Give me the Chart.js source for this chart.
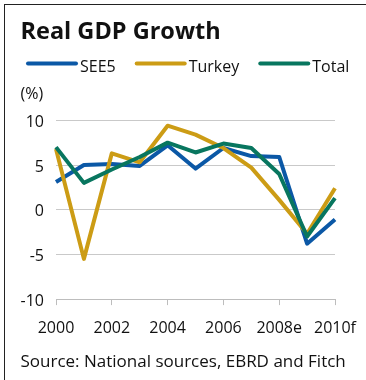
<!DOCTYPE html>
<html>
<head>
<meta charset="utf-8">
<script src="https://cdn.jsdelivr.net/npm/chart.js@4/dist/chart.umd.min.js"></script>
<style>
  html, body { margin: 0; padding: 0; background: #fff; }
  #wrap { position: relative; width: 366px; height: 380px; overflow: hidden; }
  #moldura { position: absolute; left: 4px; top: 4px; width: 420px; height: 420px;
             border-left: 1.5px solid #222; border-top: 1.5px solid #222; }
  #grafico { position: absolute; left: 0; top: 0; }
</style>
</head>
<body>
<div id="wrap">
  <div id="moldura"></div>
  <canvas id="grafico" width="366" height="380"></canvas>
</div>
<script>
// Anos e séries (%)
const anos = ['2000', '2001', '2002', '2003', '2004', '2005', '2006', '2007', '2008e', '2009f', '2010f'];
const see5 = [3.1, 5.0, 5.1, 4.9, 7.2, 4.6, 6.9, 6.0, 5.9, -3.8, -1.1];
const turquia = [6.8, -5.5, 6.3, 5.3, 9.4, 8.4, 6.9, 4.7, 1.1, -2.7, 2.4];
const total = [7.0, 3.0, 4.5, 5.9, 7.5, 6.4, 7.4, 6.9, 4.0, -3.0, 1.3];
const marcasY = [-10, -5, 0, 5, 10];

const fonte = '"Open Sans", "DejaVu Sans", sans-serif';
const corTexto = '#111';

// Legenda em linha e rótulo (%) desenhados no canvas
const legendaLinhas = {
    id: 'legendaLinhas',
    afterDraw(chart) {
        const ctx = chart.ctx;
        const yLinha = 63.5;
        let x = 26;
        ctx.save();
        ctx.font = '16px ' + fonte;
        ctx.textBaseline = 'middle';
        ctx.lineCap = 'round';
        ctx.lineWidth = 4;
        chart.data.datasets.forEach(ds => {
            ctx.strokeStyle = ds.borderColor;
            ctx.beginPath();
            ctx.moveTo(x + 2, yLinha);
            ctx.lineTo(x + 50, yLinha);
            ctx.stroke();
            x += 54;
            ctx.fillStyle = corTexto;
            ctx.fillText(ds.label, x, yLinha + 4);
            x += ctx.measureText(ds.label).width + 19;
        });
        ctx.fillText('(%)', 20.5, 94.5);
        ctx.restore();
    }
};

const ctx = document.getElementById('grafico').getContext('2d');
new Chart(ctx, {
    type: 'line',
    data: {
        labels: anos,
        datasets: [
            { label: 'SEE5', data: see5, borderColor: '#0b58a6', order: 3 },
            { label: 'Turkey', data: turquia, borderColor: '#cc9c15', order: 2 },
            { label: 'Total', data: total, borderColor: '#08765f', order: 1 }
        ]
    },
    options: {
        responsive: false,
        animation: false,
        layout: { padding: { left: 20.5, right: 0, top: 8, bottom: 2 } },
        elements: {
            line: { borderWidth: 4, tension: 0, borderJoinStyle: 'round', fill: false },
            point: { radius: 0, hoverRadius: 0 }
        },
        plugins: {
            legend: { display: false },
            tooltip: { enabled: false },
            title: {
                display: true,
                text: 'Real GDP Growth',
                align: 'start',
                color: corTexto,
                font: { family: fonte, size: 23.5, weight: 'bold' },
                padding: { top: 10, bottom: 74.1 }
            },
            subtitle: {
                display: true,
                position: 'bottom',
                text: 'Source: National sources, EBRD and Fitch',
                align: 'start',
                color: corTexto,
                font: { family: fonte, size: 17 },
                padding: { top: 0.5, bottom: 6 }
            }
        },
        scales: {
            x: {
                // margem à direita do eixo: espaço para o rótulo 2010f
                afterFit: axis => { axis.paddingRight = 31; },
                grid: {
                    drawOnChartArea: false,
                    tickLength: 6,
                    tickColor: c => (c.index % 2 ? 'rgba(0,0,0,0)' : '#bdbdbd')
                },
                border: { color: '#bdbdbd' },
                ticks: {
                    autoSkip: false,
                    maxRotation: 0,
                    padding: 13.4,
                    color: corTexto,
                    font: { family: fonte, size: 16 },
                    callback: function(v, i) { return i % 2 ? '' : anos[i]; }
                }
            },
            y: {
                min: marcasY[0],
                max: marcasY[marcasY.length - 1],
                afterBuildTicks: axis => { axis.ticks = marcasY.map(v => ({ value: v })); },
                afterFit: axis => { axis.width = 35.5; },
                grid: { color: '#c9c9c9', drawTicks: false },
                border: { display: false },
                ticks: {
                    padding: 12,
                    labelOffset: 2,
                    color: corTexto,
                    font: { family: fonte, size: 16 }
                }
            }
        }
    },
    plugins: [legendaLinhas]
});
</script>
</body>
</html>
